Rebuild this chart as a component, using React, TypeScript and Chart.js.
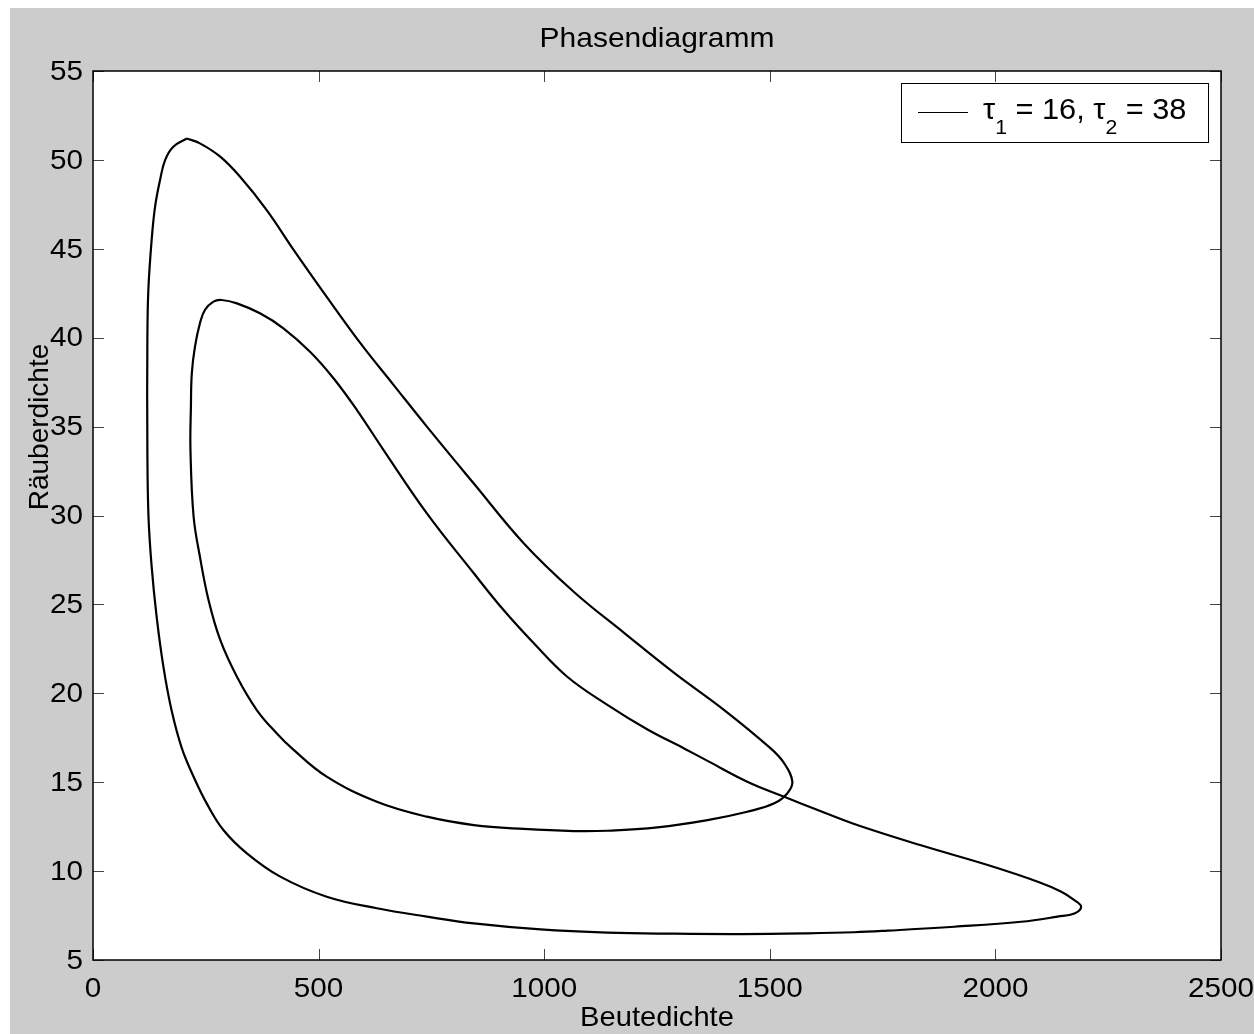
import React, { useEffect, useRef } from "react";
import { Chart, registerables } from "chart.js";

Chart.register(...registerables);

// Trajectory (prey density, predator density), in path order
const beute = [
  208, 237, 282, 326, 385, 445, 518, 593, 666, 740, 844, 955, 1066, 1177, 1288, 1399, 1502, 1532, 1550,
  1539, 1510, 1450, 1362, 1251, 1140, 1066, 955, 844, 740, 629, 518, 441, 407, 363, 319, 282, 256, 237, 223,
  216, 217, 219, 226, 237, 248, 267, 285, 319, 370, 422, 481, 533, 585, 644, 740, 844, 910, 977, 1051,
  1140, 1228, 1310, 1362, 1450, 1532, 1606, 1687, 1835, 1983, 2094, 2146, 2175, 2190, 2175, 2138, 2057, 1909, 1761, 1687,
  1583, 1436, 1288, 1140, 992, 844, 740, 629, 518, 415, 341, 289, 252, 223, 197, 174, 156, 141, 130, 123,
  120.5, 120.5, 122.7, 130, 137.6, 148.6, 160, 178, 208,
];
const raeuber = [
  51.2, 50.93, 50.18, 49.05, 47.18, 44.93, 42.3, 39.68, 37.35, 35.0, 31.8, 28.43, 25.7, 23.4, 21.15, 19.06, 16.9, 16.06, 15.03,
  14.38, 13.81, 13.34, 12.87, 12.46, 12.27, 12.25, 12.37, 12.59, 13.06, 13.9, 15.31, 16.9, 17.75, 19.06, 20.93, 23.0, 25.25, 27.68, 29.93,
  33.68, 36.12, 38.0, 39.5, 40.81, 41.56, 42.03, 42.12, 41.93, 41.37, 40.53, 39.21, 37.72, 35.93, 33.68, 30.12, 26.75, 24.68, 22.81, 20.93,
  19.35, 17.98, 16.9, 16.2, 15.03, 14.18, 13.44, 12.65, 11.45, 10.34, 9.4, 8.84, 8.37, 8.0, 7.62, 7.44, 7.15, 6.87, 6.65, 6.56,
  6.5, 6.46, 6.48, 6.54, 6.72, 7.06, 7.44, 7.91, 8.56, 9.69, 11.0, 12.31, 13.81, 15.31, 16.9, 19.06, 21.5, 24.31, 27.12, 29.93,
  33.7, 39.87, 42.7, 45.5, 47.37, 48.87, 50.0, 50.74, 51.2,
];

const xTicks = [0, 500, 1000, 1500, 2000, 2500];
const yTicks = [5, 10, 15, 20, 25, 30, 35, 40, 45, 50, 55];
const titleText = "Phasendiagramm";
const xTitle = "Beutedichte";
const yTitle = "Räuberdichte";
const tau1 = 16;
const tau2 = 38;

const FONT = '"Liberation Sans", Arial, Helvetica, sans-serif';

function textS(ctx: CanvasRenderingContext2D, s: string, x: number, y: number, sx: number) {
  ctx.save();
  ctx.translate(x, y);
  ctx.scale(sx, 1);
  ctx.fillText(s, 0, 0);
  ctx.restore();
}

const matlabPlugin = {
  id: "matlabLook",
  beforeDraw(chart: any) {
    const { ctx, width, height, chartArea: a } = chart;
    ctx.save();
    ctx.fillStyle = "#cccccc";
    ctx.fillRect(0, 0, width, height);
    ctx.fillStyle = "#ffffff";
    ctx.fillRect(a.left, a.top, a.right - a.left, a.bottom - a.top);
    ctx.restore();
  },
  afterDatasetsDraw(chart: any) {
    const { ctx, chartArea: a, scales } = chart;
    const xs = scales.x;
    const ys = scales.y;
    ctx.save();
    // ticks (inward on all four sides)
    ctx.strokeStyle = "#444444";
    ctx.lineWidth = 1;
    const tl = 11;
    ctx.beginPath();
    for (const v of xTicks) {
      const px = Math.round(xs.getPixelForValue(v)) + 0.5;
      ctx.moveTo(px, a.bottom);
      ctx.lineTo(px, a.bottom - tl);
      ctx.moveTo(px, a.top);
      ctx.lineTo(px, a.top + tl);
    }
    for (const v of yTicks) {
      const py = Math.round(ys.getPixelForValue(v)) + 0.5;
      ctx.moveTo(a.left, py);
      ctx.lineTo(a.left + tl, py);
      ctx.moveTo(a.right, py);
      ctx.lineTo(a.right - tl, py);
    }
    ctx.stroke();
    // frame
    ctx.strokeStyle = "#000000";
    ctx.lineWidth = 1.5;
    ctx.strokeRect(a.left, a.top, a.right - a.left, a.bottom - a.top);

    // tick labels
    ctx.fillStyle = "#000000";
    ctx.font = `28px ${FONT}`;
    ctx.textAlign = "center";
    ctx.textBaseline = "alphabetic";
    for (const v of xTicks) {
      textS(ctx, String(v), xs.getPixelForValue(v), a.bottom + 37, 1.06);
    }
    ctx.textAlign = "right";
    ctx.textBaseline = "middle";
    for (const v of yTicks) {
      textS(ctx, String(v), a.left - 10, ys.getPixelForValue(v) + 1, 1.06);
    }

    // title
    ctx.textAlign = "center";
    ctx.textBaseline = "alphabetic";
    ctx.font = `28px ${FONT}`;
    const cx = (a.left + a.right) / 2;
    textS(ctx, titleText, cx, a.top - 24, 1.07);
    // x title
    textS(ctx, xTitle, cx, a.bottom + 66, 1.04);
    // y title
    ctx.save();
    ctx.translate(30, 427 - 8);
    ctx.rotate(-Math.PI / 2);
    ctx.textBaseline = "middle";
    ctx.fillText(yTitle, 0, 0);
    ctx.restore();

    // legend
    const bx = 891, by = 75, bw = 307, bh = 59;
    ctx.fillStyle = "#ffffff";
    ctx.fillRect(bx, by, bw, bh);
    ctx.strokeStyle = "#000000";
    ctx.lineWidth = 1;
    ctx.strokeRect(bx + 0.5, by + 0.5, bw, bh);
    ctx.beginPath();
    ctx.moveTo(908, 104.5);
    ctx.lineTo(958, 104.5);
    ctx.strokeStyle = "#000000";
    ctx.lineWidth = 1;
    ctx.stroke();
    ctx.fillStyle = "#000000";
    ctx.textAlign = "left";
    ctx.textBaseline = "alphabetic";
    const parts: [string, boolean][] = [
      ["τ", false], [String(1), true], [` = ${tau1}, `, false],
      ["τ", false], [String(2), true], [` = ${tau2}`, false],
    ];
    const sx = 1.06;
    let tx = 973;
    for (const [s, sub] of parts) {
      ctx.font = sub ? `20px ${FONT}` : `29px ${FONT}`;
      textS(ctx, s, tx, sub ? 126 : 111, sx);
      tx += ctx.measureText(s).width * sx;
    }
    ctx.restore();
  },
};

export default function App() {
  const ref = useRef<HTMLCanvasElement | null>(null);
  useEffect(() => {
    if (!ref.current) return;
    const points = beute.map((x, i) => ({ x, y: raeuber[i] }));
    const chart = new Chart(ref.current, {
      type: "scatter",
      data: {
        datasets: [
          {
            label: `τ1 = ${tau1}, τ2 = ${tau2}`,
            data: points,
            showLine: true,
            pointRadius: 0,
            borderColor: "#000000",
            borderWidth: 2.2,
            tension: 0.4,
            fill: false,
          },
        ],
      },
      options: {
        animation: false,
        responsive: true,
        maintainAspectRatio: false,
        layout: { padding: { left: 83, top: 63, right: 33, bottom: 74 } },
        plugins: {
          legend: { display: false },
          title: { display: false },
          tooltip: { enabled: false },
        },
        scales: {
          x: { type: "linear", min: 0, max: 2500, display: false },
          y: { type: "linear", min: 5, max: 55, display: false },
        },
      },
      plugins: [matlabPlugin],
    } as any);
    return () => chart.destroy();
  }, []);
  return (
    <div style={{ position: "fixed", left: 10, top: 8, width: 1244, height: 1026 }}>
      <canvas ref={ref} />
    </div>
  );
}
